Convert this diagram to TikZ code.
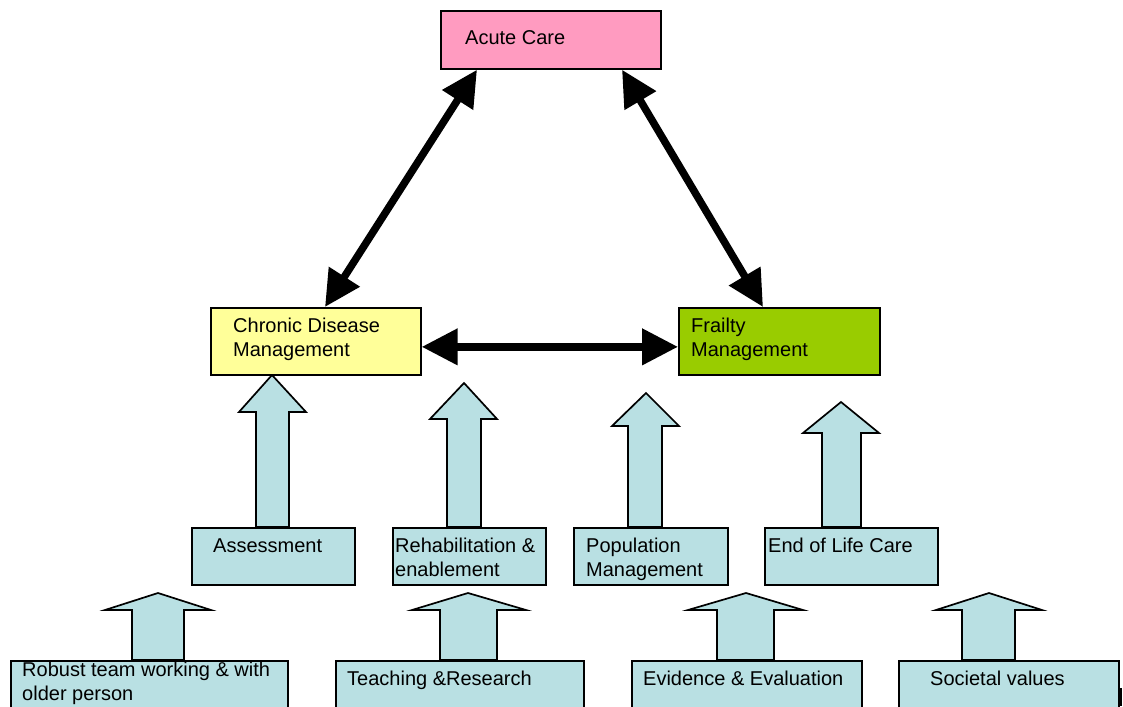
\documentclass[tikz,border=0pt]{standalone}
\usepackage{fontspec}
\setmainfont{Liberation Sans}
\usetikzlibrary{arrows.meta,calc}
\definecolor{pinkc}{HTML}{FF9BC0}
\definecolor{yellowc}{HTML}{FFFF99}
\definecolor{greenc}{HTML}{99CC00}
\definecolor{bluec}{HTML}{B9E0E3}
\newcommand{\blockarr}[8]{% tipx tipy headbase headL headR shaftL shaftR base
  \draw[blk] (#1,#2) -- (#5,#3) -- (#7,#3) -- (#7,#8) -- (#6,#8) -- (#6,#3) -- (#4,#3) -- cycle;}
\begin{document}
\begin{tikzpicture}[x=1pt,y=-1pt,
  box/.style={draw=black, line width=1.7pt, anchor=north west, inner sep=0pt},
  txt/.style={anchor=base west, inner sep=0pt, font=\fontsize{20}{24}\selectfont, align=left},
  dbl/.style={line width=7.5pt, {Triangle[length=36pt,width=35pt]}-{Triangle[length=36pt,width=35pt]}},
  blk/.style={draw=black, line width=1.7pt, fill=bluec, line join=miter}]
\useasboundingbox (0,0) rectangle (1123,706);
\clip (0,0) rectangle (1123,706);

% block arrows
\blockarr{272}{375}{412}{239}{306}{256}{289}{527}
\blockarr{464}{383}{419}{430}{497}{447}{481}{527}
\blockarr{646}{393}{426}{612}{679}{628}{662}{527}
\blockarr{841}{402}{433}{803}{879}{822}{861}{527}
\blockarr{158}{593}{610}{105}{211}{132}{184}{660}
\blockarr{468}{593}{610}{412}{526}{440}{497}{660}
\blockarr{746}{593}{610}{688}{803}{717}{774}{660}
\blockarr{989}{593}{610}{936}{1042}{962}{1015}{660}

% top boxes
\node[box, fill=pinkc, minimum width=220pt, minimum height=58pt] (acute) at (440,10) {};
\node[txt] at (465,45) {Acute Care};
\node[box, fill=yellowc, minimum width=210pt, minimum height=67pt] (chronic) at (210,307) {};
\node[txt] at (233,356) {Chronic Disease\\Management};
\node[box, fill=greenc, minimum width=201pt, minimum height=67pt] (frailty) at (678,307) {};
\node[txt] at (691,356) {Frailty\\Management};

% middle boxes
\node[box, fill=bluec, minimum width=163pt, minimum height=57pt] (assess) at (191,527) {};
\node[txt] at (213,552) {Assessment};
\node[box, fill=bluec, minimum width=153pt, minimum height=57pt] (rehab) at (392,527) {};
\node[txt] at (395,576) {Rehabilitation \&\\enablement};
\node[box, fill=bluec, minimum width=154pt, minimum height=57pt] (popul) at (573,527) {};
\node[txt] at (586,576) {Population\\Management};
\node[box, fill=bluec, minimum width=173pt, minimum height=57pt] (eol) at (764,527) {};
\node[txt] at (768,552) {End of Life Care};

% bottom boxes
\node[box, fill=bluec, minimum width=277pt, minimum height=70pt] (robust) at (10,660) {};
\node[txt] at (22,700) {Robust team working \& with\\older person};
\node[box, fill=bluec, minimum width=248pt, minimum height=70pt] (teach) at (335,660) {};
\node[txt] at (347,685) {Teaching \&Research};
\node[box, fill=bluec, minimum width=230pt, minimum height=70pt] (evid) at (631,660) {};
\node[txt] at (643,685) {Evidence \& Evaluation};
\node[box, fill=bluec, minimum width=220pt, minimum height=70pt] (soc) at (898,660) {};
\node[txt] at (930,685) {Societal values};

% black double arrows
\draw[dbl] ($(acute.south west)+(37,0)$) -- ($(chronic.north west)+(115,0)$);
\draw[dbl] ($(acute.south west)+(182,0)$) -- ($(frailty.north west)+(85,0)$);
\draw[dbl] ([yshift=-5.5pt]chronic.east) -- ([yshift=-5.5pt]frailty.west);

% small mark at lower right
\fill[black] (1119.5,688) rectangle (1122,706);
\end{tikzpicture}
\end{document}
